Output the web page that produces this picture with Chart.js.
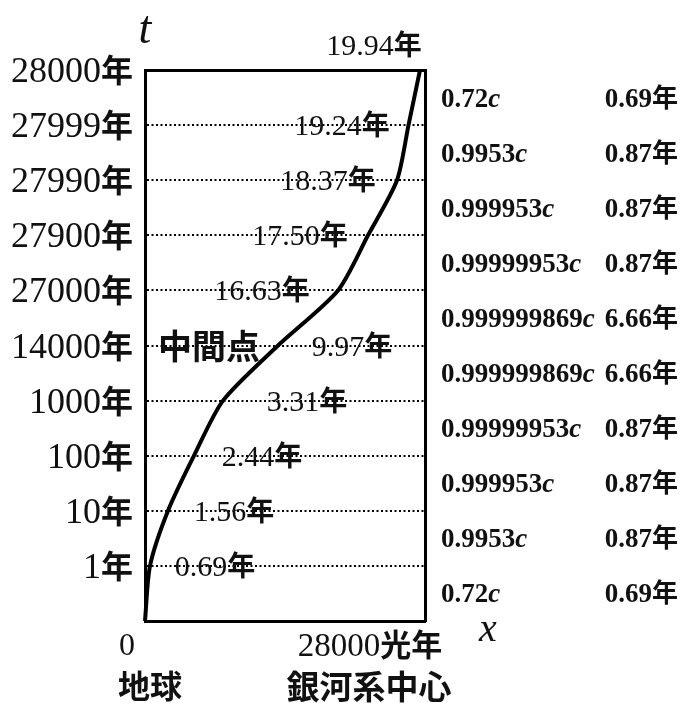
<!DOCTYPE html>
<html lang="ja">
<head>
  <meta charset="UTF-8" />
  <title>銀河系中心への旅</title>
  <script src="https://cdn.jsdelivr.net/npm/chart.js"></script>
  <style>
    body {
      margin: 0;
      background: #fff;
    }
    #wrap {
      width: 680px;
      height: 703px;
    }
  </style>
</head>
<body>
  <div id="wrap"><canvas id="trip" width="680" height="703"></canvas></div>
  <script>
    // levels on the (non-uniform) earth-time axis
    const levels = [0, 1, 2, 3, 4, 5, 6, 7, 8, 9, 10];
    const earthYears = ['', '1', '10', '100', '1000', '14000', '27000', '27900', '27990', '27999', '28000'];
    // distance travelled (light years) at each level
    const distanceLy = [0, 500, 2300, 4900, 7800, 13300, 19300, 22300, 25200, 26350, 27500];
    // proper time on the ship at each level
    const shipYears = ['', '0.69', '1.56', '2.44', '3.31', '9.97', '16.63', '17.50', '18.37', '19.24', '19.94'];
    // per segment, from bottom to top
    const speeds = ['0.72', '0.9953', '0.999953', '0.99999953', '0.999999869', '0.999999869', '0.99999953', '0.999953', '0.9953', '0.72'];
    const segYears = ['0.69', '0.87', '0.87', '0.87', '6.66', '6.66', '0.87', '0.87', '0.87', '0.69'];

    const SERIF = '"Liberation Serif", "DejaVu Serif", serif';
    const CJK = '"Noto Sans CJK JP", "Noto Sans CJK SC", sans-serif';

    // where the ship-time labels sit (light years), by level
    const shipLabelX = [null, 7000, 8900, 11700, 16200, 20700, 11700, 15500, 18300, 19700, 22900];

    function drawParts(ctx, parts, x, y, align) {
      let w = 0;
      parts.forEach(p => {
        ctx.font = p.font;
        p.w = ctx.measureText(p.text).width;
        w += p.w;
      });
      let cx = align === 'right' ? x - w : align === 'center' ? x - w / 2 : x;
      ctx.textAlign = 'left';
      ctx.textBaseline = 'alphabetic';
      parts.forEach(p => {
        ctx.font = p.font;
        ctx.fillText(p.text, cx, y);
        cx += p.w;
      });
    }

    const textPlugin = {
      id: 'texts',
      afterDraw(chart) {
        const ctx = chart.ctx;
        const xs = chart.scales.x;
        const ys = chart.scales.y;
        const area = chart.chartArea;
        ctx.save();
        ctx.fillStyle = '#111';

        // earth time ticks
        levels.forEach(i => {
          if (!earthYears[i]) return;
          const y = ys.getPixelForValue(i);
          drawParts(ctx, [
            { text: earthYears[i], font: '36px ' + SERIF },
            { text: '年', font: 'bold 32px ' + CJK }
          ], area.left - 12, y + 12, 'right');
        });

        // ship time along the curve
        levels.forEach(i => {
          if (!shipYears[i]) return;
          const y = ys.getPixelForValue(i);
          const x = xs.getPixelForValue(shipLabelX[i]);
          const base = i === 10 ? y - 15 : y + 10;
          drawParts(ctx, [
            { text: shipYears[i], font: '30px ' + SERIF },
            { text: '年', font: 'bold 28px ' + CJK }
          ], x, base, 'center');
        });
        ctx.font = 'bold 34px ' + CJK;
        ctx.textAlign = 'center';
        ctx.fillText('中間点', xs.getPixelForValue(6400), ys.getPixelForValue(5) + 13);

        // speed and ship time per segment
        speeds.forEach((v, k) => {
          const y = ys.getPixelForValue(k + 0.5) + 9;
          drawParts(ctx, [
            { text: v, font: 'bold 27px ' + SERIF },
            { text: 'c', font: 'italic bold 27px ' + SERIF }
          ], area.right + 16, y, 'left');
          drawParts(ctx, [
            { text: segYears[k], font: 'bold 27px ' + SERIF },
            { text: '年', font: 'bold 26px ' + CJK }
          ], 678, y, 'right');
        });

        // axis names and ends
        ctx.textAlign = 'center';
        ctx.font = 'italic 46px ' + SERIF;
        ctx.fillText('t', area.left, 43);
        ctx.font = 'italic 40px ' + SERIF;
        ctx.fillText('x', 488, 641);
        ctx.font = '32px ' + SERIF;
        ctx.fillText('0', area.left - 18, 655);
        drawParts(ctx, [
          { text: '28000', font: '33px ' + SERIF },
          { text: '光年', font: 'bold 31px ' + CJK }
        ], 370, 656, 'center');
        ctx.textAlign = 'center';
        ctx.font = 'bold 32px ' + CJK;
        ctx.fillText('地球', 150, 698);
        ctx.font = 'bold 33px ' + CJK;
        ctx.fillText('銀河系中心', 369, 699);
        ctx.restore();
      }
    };

    const noTicks = { display: false };
    new Chart(document.getElementById('trip'), {
      type: 'line',
      data: {
        datasets: [{
          data: distanceLy.map((d, i) => ({ x: d, y: levels[i] })),
          borderColor: '#000',
          borderWidth: 4,
          pointRadius: 0,
          tension: 0.25,
          clip: 6
        }]
      },
      options: {
        responsive: false,
        animation: false,
        devicePixelRatio: 1,
        layout: { padding: { left: 145, top: 70, right: 255, bottom: 82 } },
        plugins: { legend: { display: false }, tooltip: { enabled: false } },
        scales: {
          x: {
            type: 'linear', min: 0, max: 28000,
            ticks: noTicks,
            grid: { display: false, drawTicks: false },
            border: { color: '#000', width: 3 }
          },
          x2: {
            type: 'linear', position: 'top', min: 0, max: 28000,
            ticks: noTicks,
            grid: { display: false, drawTicks: false },
            border: { color: '#000', width: 3 }
          },
          y: {
            type: 'linear', min: 0, max: 10,
            ticks: { display: false, stepSize: 1 },
            grid: {
              drawTicks: false,
              lineWidth: 2,
              color: c => (c.tick.value === 0 || c.tick.value === 10) ? 'rgba(0,0,0,0)' : '#000'
            },
            border: { color: '#000', width: 3, dash: [2, 2.5] }
          },
          y2: {
            type: 'linear', position: 'right', min: 0, max: 10,
            ticks: noTicks,
            grid: { display: false, drawTicks: false },
            border: { color: '#000', width: 3 }
          }
        }
      },
      plugins: [textPlugin]
    });
  </script>
</body>
</html>
